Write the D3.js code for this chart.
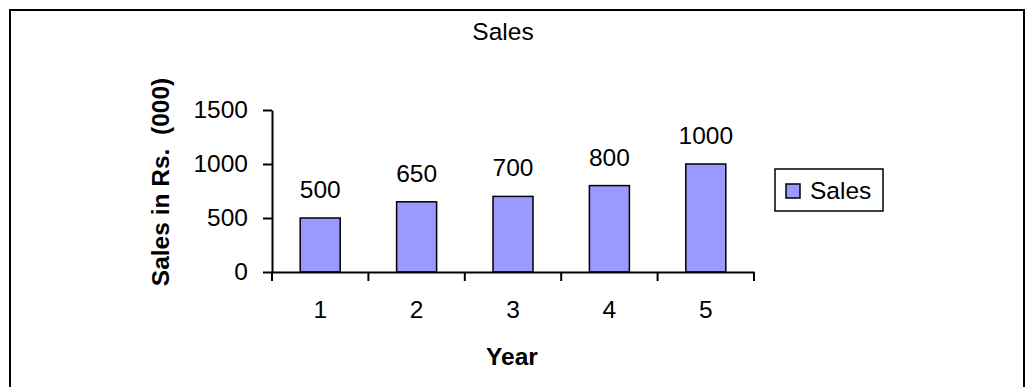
<!DOCTYPE html>
<html>
<head>
<meta charset="utf-8">
<script src="https://cdn.jsdelivr.net/npm/d3@7"></script>
<style>
  html, body { margin: 0; padding: 0; background: #fff; }
  svg { display: block; font-family: Arial, "Liberation Sans", sans-serif; }
</style>
</head>
<body>
<svg id="chart" width="1028" height="387"></svg>
<script>
const categories = ["1", "2", "3", "4", "5"];
const salesValues = [500, 650, 700, 800, 1000];
const yTickValues = [0, 500, 1000, 1500];
const seriesName = "Sales";
const chartTitle = "Sales";
const xAxisTitle = "Year";
const yAxisTitle = "Sales in Rs.  (000)";

const svg = d3.select("#chart");
const barColor = "#9999FF";
const FS = 24.5;

// outer border
svg.append("rect")
  .attr("x", 10).attr("y", 10)
  .attr("width", 1014).attr("height", 420)
  .attr("fill", "none").attr("stroke", "#000").attr("stroke-width", 2);

const x = d3.scaleBand().domain(categories).range([272, 754])
  .paddingInner(0.585).paddingOuter(0.2925);
const y = d3.scaleLinear().domain([0, 1500]).range([272, 110]);

// bars
svg.append("g").selectAll("rect").data(salesValues).join("rect")
  .attr("x", (d, i) => x(categories[i]))
  .attr("y", d => y(d))
  .attr("width", x.bandwidth())
  .attr("height", d => y(0) - y(d))
  .attr("fill", barColor)
  .attr("stroke", "#000").attr("stroke-width", 1.5);

// y axis
const yAxis = svg.append("g").attr("transform", "translate(272,0)")
  .call(d3.axisLeft(y).tickValues(yTickValues).tickFormat(d3.format("d"))
    .tickSize(9).tickSizeOuter(0).tickPadding(15));
yAxis.selectAll("text").attr("font-size", FS).attr("font-family", "Arial, 'Liberation Sans', sans-serif").attr("fill", "#000");
yAxis.selectAll("line, path").attr("stroke", "#000").attr("stroke-width", 2);

// x axis (labels centered in bands, ticks at band boundaries)
const xAxis = svg.append("g").attr("transform", "translate(0,272)")
  .call(d3.axisBottom(x).tickSize(0).tickSizeOuter(0).tickPadding(0));
xAxis.select(".domain").attr("stroke", "#000").attr("stroke-width", 2);
xAxis.selectAll("text").attr("font-size", FS).attr("font-family", "Arial, 'Liberation Sans', sans-serif")
  .attr("fill", "#000").attr("dy", null).attr("y", 46);
const step = x.step();
const edges = categories.map(c => x(c) - (step - x.bandwidth()) / 2).concat([x(categories[categories.length - 1]) + x.bandwidth() + (step - x.bandwidth()) / 2]);
xAxis.selectAll("line.edge").data(edges).join("line").attr("class", "edge")
  .attr("x1", d => d).attr("x2", d => d).attr("y1", 0).attr("y2", 9)
  .attr("stroke", "#000").attr("stroke-width", 2);

// value labels
svg.append("g").selectAll("text").data(salesValues).join("text")
  .attr("x", (d, i) => x(categories[i]) + x.bandwidth() / 2)
  .attr("y", d => y(d) - 20)
  .attr("text-anchor", "middle").attr("font-size", FS).attr("fill", "#000")
  .text(d => d);

// title
svg.append("text").attr("x", 503).attr("y", 39.5).attr("text-anchor", "middle")
  .attr("font-size", FS).attr("fill", "#000").text(chartTitle);

// axis titles
svg.append("text").attr("x", 512).attr("y", 365).attr("text-anchor", "middle")
  .attr("font-size", FS).attr("font-weight", "bold").attr("fill", "#000").text(xAxisTitle);
svg.append("text").attr("transform", "translate(169,182) rotate(-90)")
  .attr("text-anchor", "middle").attr("font-size", FS).attr("font-weight", "bold")
  .attr("fill", "#000").style("white-space", "pre").text(yAxisTitle);

// legend
const lg = svg.append("g");
lg.append("rect").attr("x", 775).attr("y", 169).attr("width", 108).attr("height", 42)
  .attr("fill", "#fff").attr("stroke", "#000").attr("stroke-width", 1.5);
lg.append("rect").attr("x", 786).attr("y", 184).attr("width", 14).attr("height", 14)
  .attr("fill", barColor).attr("stroke", "#000").attr("stroke-width", 1.5);
lg.append("text").attr("x", 810).attr("y", 199).attr("font-size", FS).attr("fill", "#000").text(seriesName);
</script>
</body>
</html>
